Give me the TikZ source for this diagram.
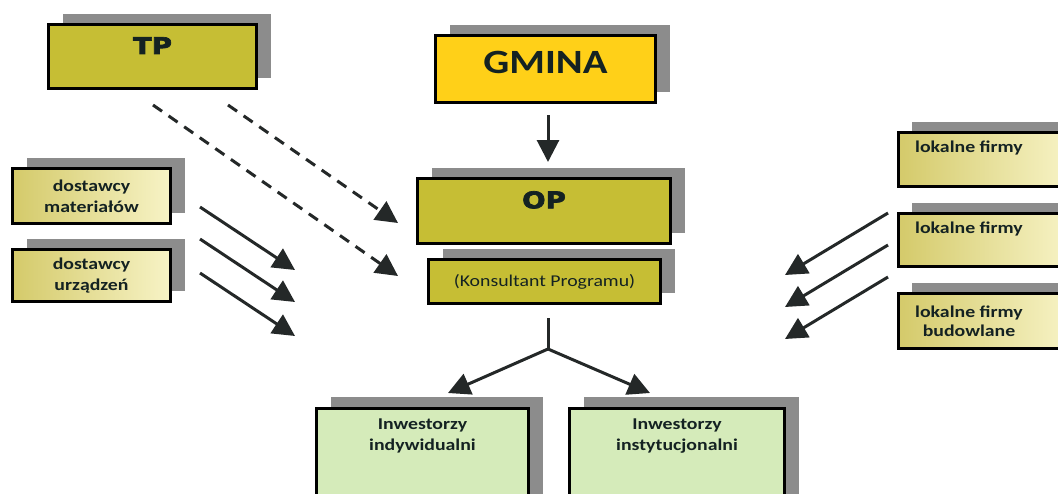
\documentclass[tikz,border=0pt]{standalone}
\usepackage{fontspec}
\newfontfamily\boxfont[FakeStretch=1.2]{Carlito}
\newfontfamily\heavyfont[FakeStretch=1.2,FakeBold=3]{DejaVu Sans}
\usetikzlibrary{arrows.meta,shadows,positioning}

\definecolor{boxolive}{RGB}{198,190,52}
\definecolor{boxgold}{RGB}{255,208,24}
\definecolor{boxgreen}{RGB}{213,235,186}
\definecolor{yelleft}{RGB}{212,202,106}
\definecolor{yelright}{RGB}{247,243,198}
\definecolor{shadowgray}{RGB}{140,140,140}
\definecolor{textdark}{RGB}{20,34,34}
\definecolor{arrowdark}{RGB}{36,40,40}

\begin{document}
\begin{tikzpicture}[x=1pt,y=-1pt,
	box/.style={draw=black,line width=3pt,rectangle,inner sep=0pt,
		drop shadow={opacity=1,fill=shadowgray,shadow xshift=14pt,shadow yshift=11pt}},
	heavy/.style={font=\heavyfont\bfseries\fontsize{23}{28}\selectfont,text=textdark,inner sep=0pt},
	small/.style={font=\boxfont\bfseries\fontsize{16.5}{21}\selectfont,text=textdark,align=center,inner sep=0pt},
	arr/.style={line width=3pt,draw=arrowdark,-{Triangle[length=22pt,width=22pt]}},
	dasharr/.style={arr,dash pattern=on 11pt off 8pt}]

	\useasboundingbox (0,0) rectangle (1058,493);

	% boxes
	\begin{scope}[every node/.style={box}]
		\node[fill=boxolive,minimum width=208pt,minimum height=64pt] (tp) at (152.5,56.5) {};
		\node[fill=boxgold,minimum width=220pt,minimum height=67pt] (gmina) at (545.5,69) {};
		\node[fill=boxolive,minimum width=253pt,minimum height=65pt] (op) at (544,211) {};
		\node[fill=boxolive,minimum width=232pt,minimum height=44pt] (kons) at (544.5,281.5) {};
		\node[left color=yelleft,right color=yelright,minimum width=158pt,minimum height=55pt] (dost_m) at (91.5,196) {};
		\node[left color=yelleft,right color=yelright,minimum width=158pt,minimum height=52pt] (dost_u) at (91.5,275.5) {};
		\node[left color=yelleft,right color=yelright,minimum width=172pt,minimum height=54pt] (firmy_a) at (984,159.5) {};
		\node[left color=yelleft,right color=yelright,minimum width=172pt,minimum height=53pt] (firmy_b) at (984,240) {};
		\node[left color=yelleft,right color=yelright,minimum width=172pt,minimum height=55pt] (firmy_c) at (984,321) {};
		\node[fill=boxgreen,minimum width=212pt,minimum height=110pt] (inw_i) at (422.5,463) {};
		\node[fill=boxgreen,minimum width=215pt,minimum height=110pt] (inw_s) at (677,463) {};
	\end{scope}

	% texts
	\node[heavy] (tp_t) at (tp.north) [below=14pt] {TP};
	\node[heavy] (op_t) at (op.north) [below=14pt] {OP};
	\node[small,font=\boxfont\bfseries\fontsize{34}{40}\selectfont] (gmina_t) at (gmina.north) [below=17pt] {GMINA};
	\node[small,font=\boxfont\fontsize{16.5}{21}\selectfont] (kons_t) at (kons) {(Konsultant Programu)};
	\node[small] (dost_m_t) at (dost_m) {dostawcy\\materiałów};
	\node[small] (dost_u_t) at (dost_u) {dostawcy\\urządzeń};
	\node[small] (firmy_a_t) at (firmy_a.north -| 984,0) [below=10pt,xshift=-15pt] {lokalne firmy};
	\node[small] (firmy_b_t) at (firmy_b.north -| 984,0) [below=10pt,xshift=-15pt] {lokalne firmy};
	\node[small,font=\boxfont\bfseries\fontsize{16.5}{19}\selectfont] (firmy_c_t) at (firmy_c) [xshift=-15pt] {lokalne firmy\\budowlane};
	\node[small] (inw_i_t) at (inw_i.north) [below=12pt] {Inwestorzy\\indywidualni};
	\node[small] (inw_s_t) at (inw_s.north) [below=12pt] {Inwestorzy\\instytucjonalni};

	% arrows
	\coordinate (split) at (548,349);
	\coordinate (kons_out) at (548,318);
	\coordinate (inw_i_in) at (448,393);
	\coordinate (inw_s_in) at (650,393);
	\draw[arr,shorten <=11pt,shorten >=15pt] (gmina.south -| 548,0) -- (op.north -| 548,0);
	\draw[line width=3pt,draw=arrowdark] (kons_out) -- (split);
	\draw[arr] (split) -- (inw_i_in);
	\draw[arr] (split) -- (inw_s_in);

	\coordinate (tp_out_a) at (228,105);
	\coordinate (tp_out_b) at (153,105);
	\coordinate (op_in) at (398,223);
	\coordinate (kons_in) at (398,276);
	\draw[dasharr] (tp_out_a) -- (op_in);
	\draw[dasharr] (tp_out_b) -- (kons_in);

	\foreach \y/\n in {207/1,239/2,273/3} {
		\coordinate (dost_out\n) at (200,\y);
		\coordinate (dost_in\n) at (295,\y+63);
		\draw[arr] (dost_out\n) -- (dost_in\n);
	}
	\foreach \y/\n in {213/1,245/2,277/3} {
		\coordinate (firmy_out\n) at (888,\y);
		\coordinate (firmy_in\n) at (785,\y+62);
		\draw[arr] (firmy_out\n) -- (firmy_in\n);
	}

\end{tikzpicture}
\end{document}
